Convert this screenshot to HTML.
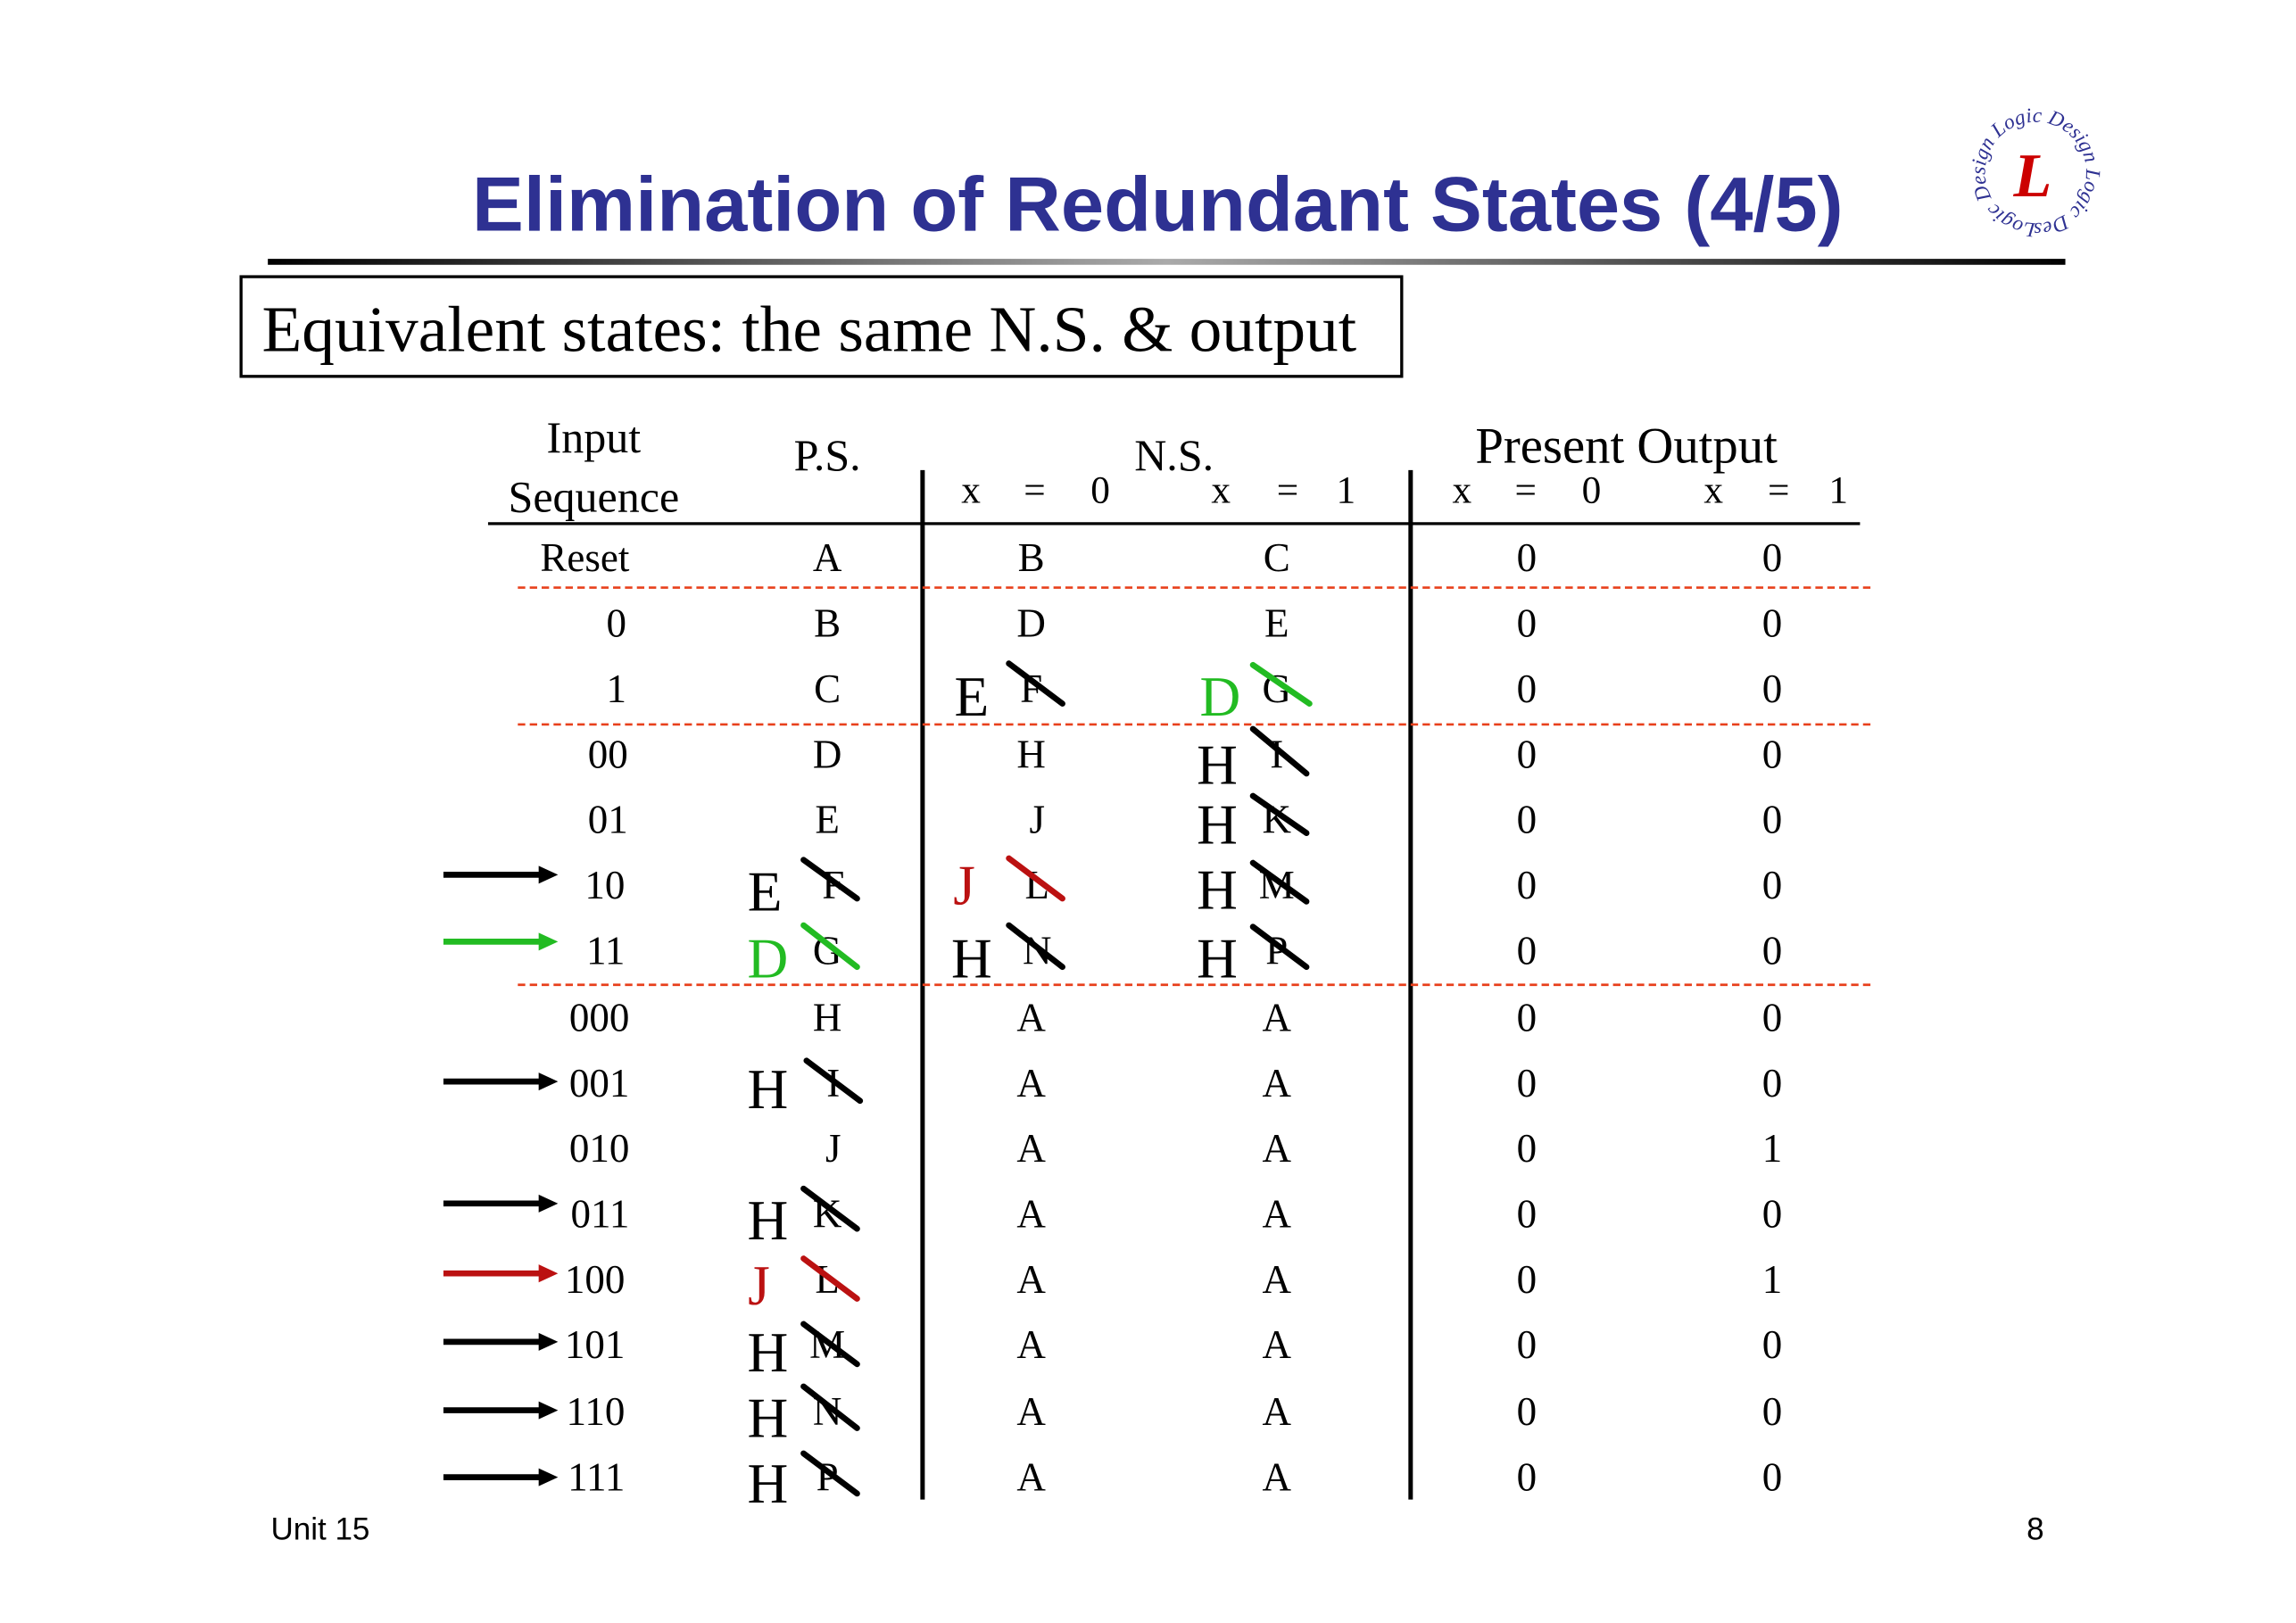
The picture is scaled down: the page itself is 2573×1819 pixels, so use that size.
<!DOCTYPE html>
<html><head><meta charset="utf-8"><style>
html,body{margin:0;padding:0;background:#fff;}
svg{display:block}
</style></head><body>
<svg width="2573" height="1819" viewBox="0 0 1543 1091" preserveAspectRatio="none" xmlns="http://www.w3.org/2000/svg">
<defs>
<linearGradient id="g" x1="0" x2="1" y1="0" y2="0">
<stop offset="0" stop-color="#000"/><stop offset="0.5" stop-color="#aaa"/><stop offset="1" stop-color="#000"/>
</linearGradient>
<path id="circ" d="M1368,150 a34,34 0 1,1 0.1,0"/>
</defs>
<rect width="1543" height="1091" fill="#fff"/>
<text x="778" y="155" text-anchor="middle" font-family="Liberation Sans, sans-serif" font-weight="bold" font-size="52" fill="#2e3192">Elimination of Redundant States (4/5)</text>
<rect x="180" y="174" width="1208" height="4" fill="url(#g)"/>
<text font-family="Liberation Serif, serif" font-style="italic" font-size="14" fill="#2e3192"><textPath href="#circ">Logic Design Logic Design Logic Design</textPath></text>
<text x="1366" y="132" text-anchor="middle" font-family="Liberation Serif, serif" font-style="italic" font-weight="bold" font-size="42" fill="#cc0000">L</text>

<rect x="162" y="186" width="780" height="67" fill="none" stroke="#000" stroke-width="2"/>
<text x="176" y="236" font-family="Liberation Serif, serif" font-size="44">Equivalent states: the same N.S. &amp; output</text>

<g font-family="Liberation Serif, serif" font-size="30" text-anchor="middle">
<text x="399" y="304">Input</text>
<text x="399" y="344">Sequence</text>
<text x="556" y="316">P.S.</text>
<text x="789" y="316">N.S.</text>
<text x="1093" y="311" font-size="34">Present Output</text>
</g>
<g font-family="Liberation Serif, serif" font-size="26">
<text x="646" y="338">x</text><text x="688" y="338">=</text><text x="733" y="338">0</text>
<text x="814" y="338">x</text><text x="858" y="338">=</text><text x="898" y="338">1</text>
<text x="976" y="338">x</text><text x="1018" y="338">=</text><text x="1063" y="338">0</text>
<text x="1145" y="338">x</text><text x="1188" y="338">=</text><text x="1229" y="338">1</text>
</g>
<line x1="328" y1="352" x2="1250" y2="352" stroke="#000" stroke-width="2"/>
<line x1="620" y1="316" x2="620" y2="1008" stroke="#000" stroke-width="3"/>
<line x1="948" y1="316" x2="948" y2="1008" stroke="#000" stroke-width="3"/>
<g stroke="#e8401c" stroke-width="1.6" stroke-dasharray="5,3">
<line x1="348" y1="395" x2="1260" y2="395"/>
<line x1="348" y1="487" x2="1260" y2="487"/>
<line x1="348" y1="662" x2="1260" y2="662"/>
</g>

<g font-family="Liberation Serif, serif" font-size="27">
<g text-anchor="end">
<text x="423" y="384">Reset</text><text x="421" y="428">0</text><text x="421" y="472">1</text>
<text x="422" y="516">00</text><text x="422" y="560">01</text><text x="420" y="604">10</text>
<text x="420" y="648">11</text><text x="423" y="693">000</text><text x="423" y="737">001</text>
<text x="423" y="781">010</text><text x="423" y="825">011</text><text x="420" y="869">100</text>
<text x="420" y="913">101</text><text x="420" y="958">110</text><text x="420" y="1002">111</text>
</g>
<g text-anchor="middle">
<text x="556" y="384">A</text><text x="556" y="428">B</text><text x="556" y="472">C</text>
<text x="556" y="516">D</text><text x="556" y="560">E</text><text x="560" y="604">F</text>
<text x="556" y="648">G</text><text x="556" y="693">H</text><text x="560" y="737">I</text>
<text x="560" y="781">J</text><text x="556" y="825">K</text><text x="556" y="869">L</text>
<text x="556" y="913">M</text><text x="556" y="958">N</text><text x="556" y="1002">P</text>
<text x="693" y="384">B</text><text x="693" y="428">D</text><text x="693" y="472">F</text>
<text x="693" y="516">H</text><text x="697" y="560">J</text><text x="697" y="604">L</text>
<text x="697" y="648">N</text>
<text x="693" y="693">A</text><text x="693" y="737">A</text><text x="693" y="781">A</text><text x="693" y="825">A</text><text x="693" y="869">A</text><text x="693" y="913">A</text><text x="693" y="958">A</text><text x="693" y="1002">A</text>
<text x="858" y="384">C</text><text x="858" y="428">E</text><text x="858" y="472">G</text>
<text x="858" y="516">I</text><text x="858" y="560">K</text><text x="858" y="604">M</text>
<text x="858" y="648">P</text>
<text x="858" y="693">A</text><text x="858" y="737">A</text><text x="858" y="781">A</text><text x="858" y="825">A</text><text x="858" y="869">A</text><text x="858" y="913">A</text><text x="858" y="958">A</text><text x="858" y="1002">A</text>
</g>
<g text-anchor="middle">
<text x="1026" y="384">0</text><text x="1191" y="384">0</text>
<text x="1026" y="428">0</text><text x="1191" y="428">0</text>
<text x="1026" y="472">0</text><text x="1191" y="472">0</text>
<text x="1026" y="516">0</text><text x="1191" y="516">0</text>
<text x="1026" y="560">0</text><text x="1191" y="560">0</text>
<text x="1026" y="604">0</text><text x="1191" y="604">0</text>
<text x="1026" y="648">0</text><text x="1191" y="648">0</text>
<text x="1026" y="693">0</text><text x="1191" y="693">0</text>
<text x="1026" y="737">0</text><text x="1191" y="737">0</text>
<text x="1026" y="781">0</text><text x="1191" y="781">1</text>
<text x="1026" y="825">0</text><text x="1191" y="825">0</text>
<text x="1026" y="869">0</text><text x="1191" y="869">1</text>
<text x="1026" y="913">0</text><text x="1191" y="913">0</text>
<text x="1026" y="958">0</text><text x="1191" y="958">0</text>
<text x="1026" y="1002">0</text><text x="1191" y="1002">0</text>
</g>
</g>

<g font-family="Liberation Serif, serif" font-size="38" text-anchor="middle">
<text x="514" y="612">E</text>
<text x="516" y="657" fill="#22bb22">D</text>
<text x="516" y="745">H</text>
<text x="516" y="833">H</text>
<text x="510" y="877" fill="#bb1111">J</text>
<text x="516" y="922">H</text>
<text x="516" y="966">H</text>
<text x="516" y="1010">H</text>
<text x="653" y="481">E</text>
<text x="648" y="608" fill="#bb1111">J</text>
<text x="653" y="657">H</text>
<text x="820" y="481" fill="#22bb22">D</text>
<text x="818" y="527">H</text>
<text x="818" y="567">H</text>
<text x="818" y="611">H</text>
<text x="818" y="657">H</text>
</g>
<g stroke-width="4" stroke-linecap="round">
<line x1="540" y1="578" x2="576" y2="604" stroke="#000"/>
<line x1="540" y1="622" x2="576" y2="650" stroke="#22bb22"/>
<line x1="542" y1="713" x2="578" y2="740" stroke="#000"/>
<line x1="540" y1="799" x2="576" y2="826" stroke="#000"/>
<line x1="540" y1="846" x2="576" y2="873" stroke="#bb1111"/>
<line x1="540" y1="890" x2="576" y2="917" stroke="#000"/>
<line x1="540" y1="932" x2="576" y2="960" stroke="#000"/>
<line x1="540" y1="977" x2="576" y2="1004" stroke="#000"/>
<line x1="678" y1="446" x2="714" y2="473" stroke="#000"/>
<line x1="678" y1="577" x2="714" y2="604" stroke="#bb1111"/>
<line x1="678" y1="622" x2="714" y2="650" stroke="#000"/>
<line x1="842" y1="447" x2="880" y2="473" stroke="#22bb22"/>
<line x1="842" y1="490" x2="878" y2="520" stroke="#000"/>
<line x1="842" y1="535" x2="878" y2="560" stroke="#000"/>
<line x1="842" y1="580" x2="878" y2="606" stroke="#000"/>
<line x1="842" y1="623" x2="878" y2="650" stroke="#000"/>
</g>
<g stroke-width="4">
<line x1="298" y1="588" x2="364" y2="588" stroke="#000"/><polygon points="362,582 375,588 362,594" fill="#000"/>
<line x1="298" y1="633" x2="364" y2="633" stroke="#22bb22"/><polygon points="362,627 375,633 362,639" fill="#22bb22"/>
<line x1="298" y1="727" x2="364" y2="727" stroke="#000"/><polygon points="362,721 375,727 362,733" fill="#000"/>
<line x1="298" y1="809" x2="364" y2="809" stroke="#000"/><polygon points="362,803 375,809 362,815" fill="#000"/>
<line x1="298" y1="856" x2="364" y2="856" stroke="#bb1111"/><polygon points="362,850 375,856 362,862" fill="#bb1111"/>
<line x1="298" y1="902" x2="364" y2="902" stroke="#000"/><polygon points="362,896 375,902 362,908" fill="#000"/>
<line x1="298" y1="948" x2="364" y2="948" stroke="#000"/><polygon points="362,942 375,948 362,954" fill="#000"/>
<line x1="298" y1="993" x2="364" y2="993" stroke="#000"/><polygon points="362,987 375,993 362,999" fill="#000"/>
</g>

<text x="182" y="1035" font-family="Liberation Sans, sans-serif" font-size="21">Unit 15</text>
<text x="1362" y="1035" font-family="Liberation Sans, sans-serif" font-size="21">8</text>
</svg>
</body></html>
